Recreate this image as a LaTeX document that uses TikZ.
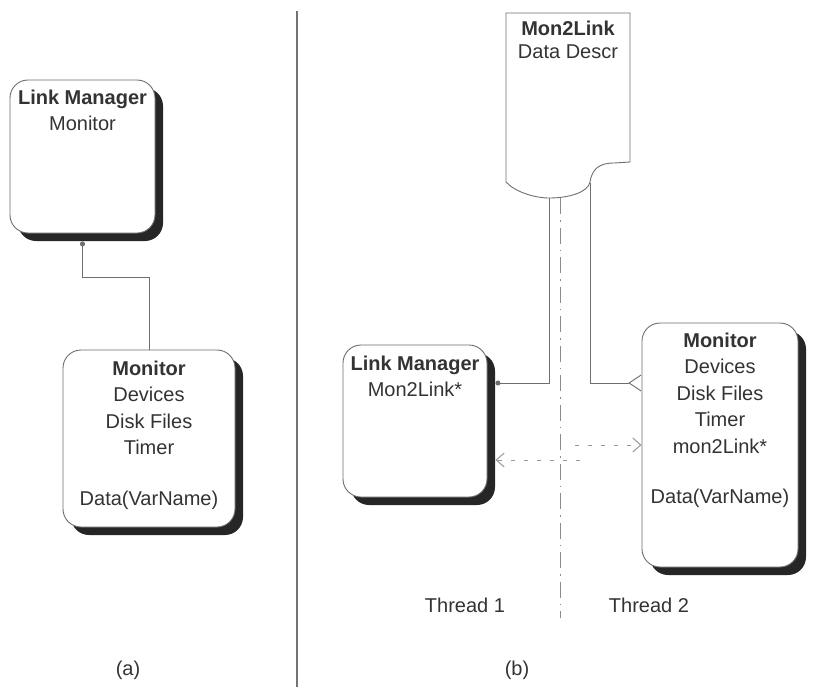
\documentclass[tikz,border=0pt]{standalone}
\usepackage{fontspec}
\setmainfont{Liberation Sans}
\usepackage{xcolor}
\usepackage{tikz}
\usetikzlibrary{positioning, arrows.meta, shadows}
\definecolor{InkGray}{HTML}{333333}
\definecolor{LineGray}{HTML}{6E6E6E}

\begin{document}
\begin{tikzpicture}[x=1pt, y=-1pt,
            box/.style={draw=LineGray, line width=0.9pt, rounded corners=18pt, fill=white, drop shadow={shadow xshift=8pt, shadow yshift=-8pt, fill=black!85, opacity=1}},
            txt/.style={text=InkGray, align=center, inner sep=0pt, font=\fontsize{20}{26.5}\selectfont},
            link/.style={draw=LineGray, line width=0.9pt},
            msg/.style={draw=black!40, line width=1pt, dash pattern=on 4pt off 9pt, -{Straight Barb[length=8pt, width=14pt, line width=1pt]}},
            thread/.style={draw=black!45, line width=0.9pt, dash pattern=on 16pt off 6pt on 1.5pt off 6pt}
        ]
            \useasboundingbox (0,0) rectangle (824,688);

            % divider
            \node[inner sep=0pt] (top) at (297,10) {};
            \node[inner sep=0pt] (bot) at (297,688) {};
            \draw[draw=black!55, line width=1.2pt] (top) -- (bot);

            % (a)
            \node[box, minimum width=145pt, minimum height=153pt] (lma) at (82.5,156.5) {};
            \node[txt, below=10pt of lma.north] (lma-txt) {\textbf{Link Manager}\\Monitor};

            \node[box, minimum width=172pt, minimum height=177pt] (mona) at (149,438.5) {};
            \node[txt, below=11pt of mona.north] (mona-txt) {\textbf{Monitor}\\Devices\\Disk Files\\Timer\\[24pt]Data(VarName)};

            \coordinate (lmaport) at ([yshift=-8pt]lma.south);
            \draw[link, {Circle[length=5pt]}-] (lmaport) -- ++(0,36) -| (mona.north);

            \node[txt] (cap-a) at (128,670) {(a)};

            % (b)
            \node[txt, anchor=north, font=\fontsize{20}{23}\selectfont] (doc) at (568,21) {\textbf{Mon2Link}\\Data Descr};
            \draw[link] (506,13) -- (506,182) .. controls (515,192) and (535,198) .. (549,198)
                .. controls (570,198) and (588,192) .. (590,182)
                .. controls (592,170) and (598,163) .. (614,163) -- (630,162) -- (630,13) -- cycle;
            \coordinate (docl) at (549,198);
            \coordinate (docr) at (590,183);
            \coordinate (docm) at (560,198);

            \node[box, minimum width=144pt, minimum height=152pt] (lmb) at (415,421) {};
            \node[txt, below=11pt of lmb.north] (lmb-txt) {\textbf{Link Manager}\\Mon2Link*};

            \node[box, minimum width=156pt, minimum height=244pt] (monb) at (720,445) {};
            \node[txt, below=10pt of monb.north] (monb-txt) {\textbf{Monitor}\\Devices\\Disk Files\\Timer\\mon2Link*\\[24pt]Data(VarName)};

            \node[txt] (t1) at (465,605) {Thread 1};
            \node[txt] (t2) at (649,605) {Thread 2};
            \node[txt] (cap-b) at (517,670) {(b)};

            \coordinate (lmport) at ([xshift=8pt, yshift=38pt]lmb.east);
            \coordinate (monport) at ([yshift=62pt]monb.west);
            \draw[link, -{Circle[length=5pt]}] (docl) |- (lmport);
            \draw[link, -{Straight Barb[reversed, length=12pt, width=16pt, line width=0.9pt]}] (docr) |- (monport);

            \coordinate (tend) at (560,618);
            \draw[thread] (docm) -- (tend);

            \coordinate (up0) at (575,445);
            \coordinate (lo0) at (580,460);
            \coordinate (lo1) at ([xshift=8pt]lo0 -| lmb.east);
            \draw[msg] (up0) -- (monb.west);
            \draw[msg] (lo0) -- (lo1);

        \end{tikzpicture}
\end{document}
